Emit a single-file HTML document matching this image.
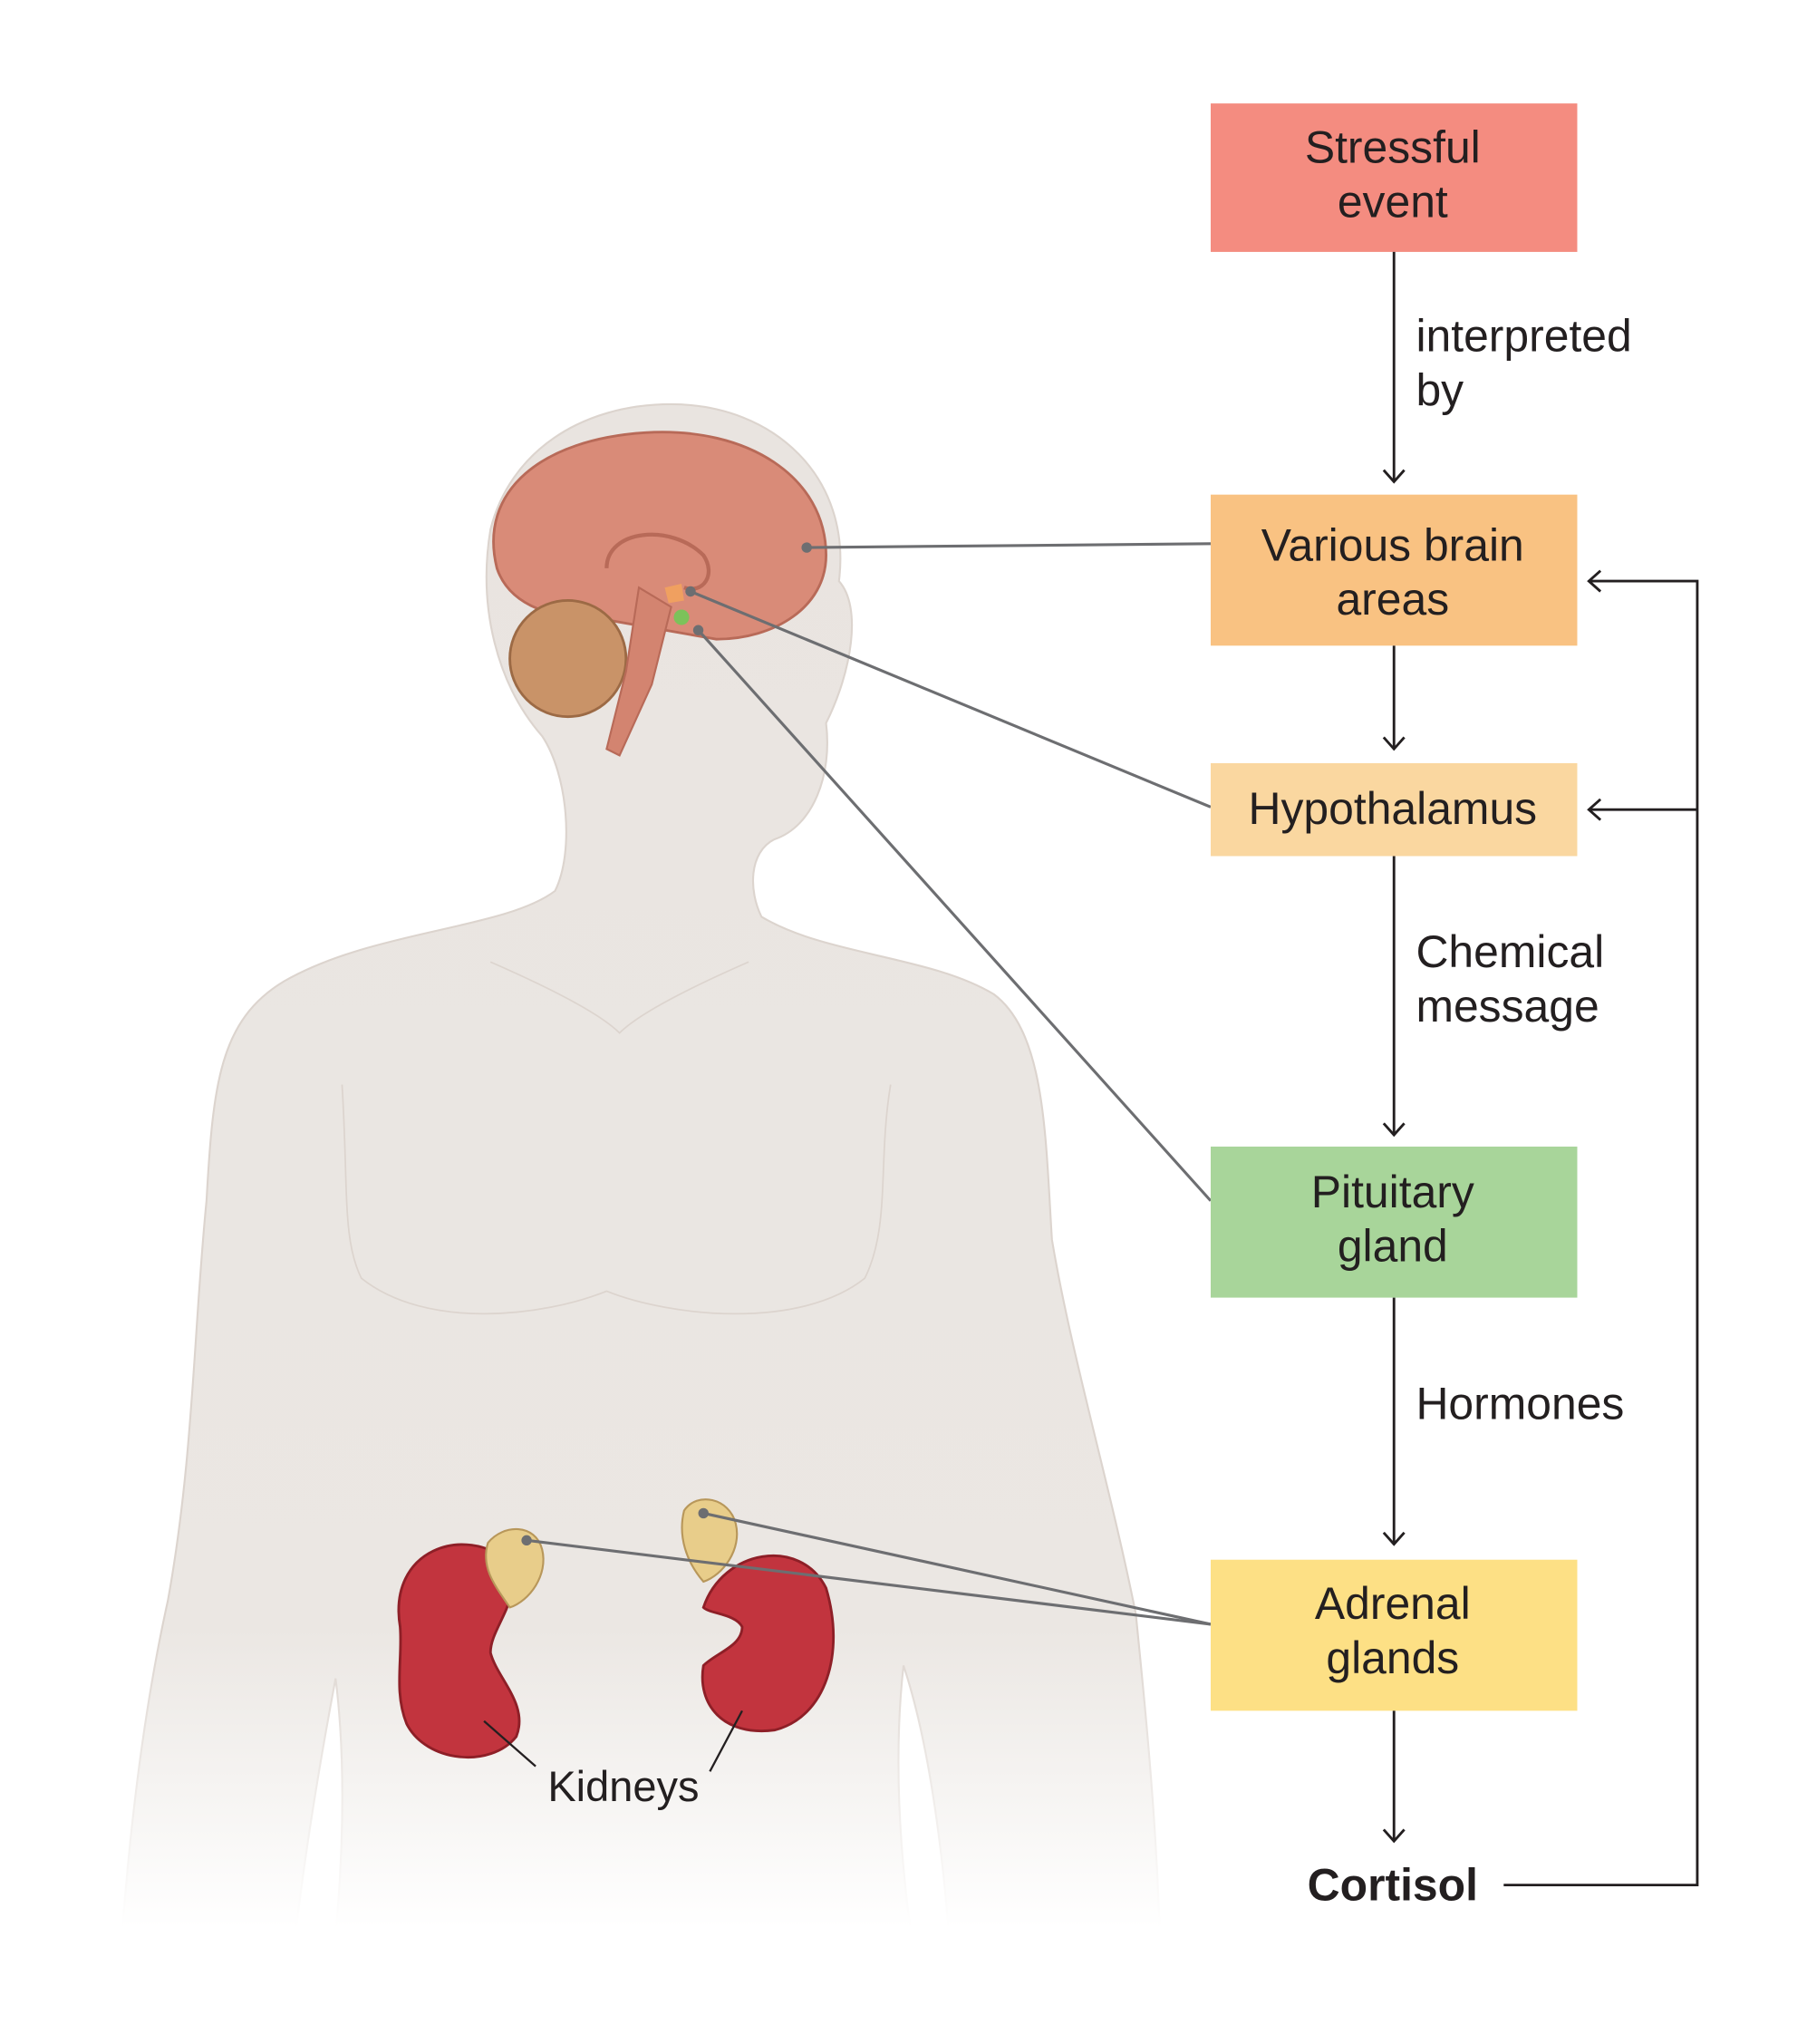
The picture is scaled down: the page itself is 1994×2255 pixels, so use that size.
<!DOCTYPE html>
<html><head><meta charset="utf-8"><style>
html,body{margin:0;padding:0;background:#fff;}
svg{display:block;}
text{font-family:"Liberation Sans",Arial,sans-serif;fill:#231f20;}
</style></head><body>
<svg width="1994" height="2255" viewBox="0 0 1400 1583" xmlns="http://www.w3.org/2000/svg">
<defs>
<linearGradient id="fade" gradientUnits="userSpaceOnUse" x1="0" y1="300" x2="0" y2="1583">
<stop offset="0" stop-color="#e9e4e0"/><stop offset="0.75" stop-color="#ebe7e3"/><stop offset="0.93" stop-color="#ffffff"/><stop offset="1" stop-color="#ffffff"/>
</linearGradient>
<linearGradient id="fadeS" gradientUnits="userSpaceOnUse" x1="0" y1="300" x2="0" y2="1583">
<stop offset="0" stop-color="#dcd4ce"/><stop offset="0.75" stop-color="#dcd4ce"/><stop offset="0.93" stop-color="#ffffff"/><stop offset="1" stop-color="#ffffff"/>
</linearGradient>
</defs>
<!-- body -->
<path d="M520 313 C600 313 660 370 650 450 C668 470 660 520 640 560 C645 600 630 640 600 650 C580 660 580 690 590 710 C640 740 720 740 770 770 C810 800 810 880 815 960 C830 1050 860 1150 880 1250 C890 1350 900 1450 900 1583 L740 1583 C735 1450 720 1350 700 1290 C690 1380 700 1480 720 1583 L250 1583 C265 1480 270 1380 260 1300 C245 1380 230 1470 220 1583 L90 1583 C95 1450 110 1330 130 1240 C150 1130 150 1030 160 930 C165 840 170 790 220 760 C290 720 390 720 430 690 C445 660 440 600 420 570 C385 530 370 470 380 410 C395 350 450 313 520 313 Z" fill="url(#fade)" stroke="url(#fadeS)" stroke-width="1.5"/>
<path d="M265 840 C270 920 265 960 280 990 C330 1030 420 1020 470 1000 C520 1020 620 1030 670 990 C690 950 680 900 690 840" fill="none" stroke="#dcd4ce" stroke-width="1.2"/>
<path d="M380 745 Q460 780 480 800 Q500 780 580 745" fill="none" stroke="#dcd4ce" stroke-width="1.2"/>
<!-- brain -->
<path d="M385 440 C370 380 420 340 500 335 C580 330 640 370 640 430 C640 470 600 495 555 495 L470 480 C430 480 395 470 385 440 Z" fill="#d98b78" stroke="#b86a58" stroke-width="2"/>
<path d="M470 440 C470 410 520 405 545 430 C555 445 545 460 530 455" fill="none" stroke="#b86a58" stroke-width="3"/>
<circle cx="440" cy="510" r="45" fill="#c99368" stroke="#9c6a45" stroke-width="2"/>
<path d="M495 455 L520 470 L505 530 L480 585 L470 580 L485 520 Z" fill="#d38470" stroke="#b86a58" stroke-width="1.5"/>
<path d="M515 455 L528 452 L530 465 L518 467 Z" fill="#f0a060"/>
<circle cx="528" cy="478" r="6" fill="#7cc25a"/>
<!-- adrenals & kidneys -->
<path d="M310 1260 C300 1200 360 1180 395 1210 C405 1240 380 1260 380 1280 C385 1300 410 1320 400 1345 C380 1370 330 1365 315 1335 C305 1310 312 1285 310 1260 Z" fill="#c2343e" stroke="#8e1f27" stroke-width="2"/>
<path d="M545 1245 C560 1200 620 1190 640 1230 C655 1280 640 1330 600 1340 C560 1345 540 1320 545 1290 C555 1280 575 1275 575 1260 C570 1250 550 1250 545 1245 Z" fill="#c2343e" stroke="#8e1f27" stroke-width="2"/>
<path d="M378 1195 C390 1180 415 1180 420 1200 C425 1220 410 1240 395 1245 C385 1230 372 1215 378 1195 Z" fill="#e8cd8a" stroke="#b8975a" stroke-width="1.5"/>
<path d="M530 1170 C540 1155 565 1160 570 1180 C575 1200 560 1220 545 1225 C532 1210 525 1190 530 1170 Z" fill="#e8cd8a" stroke="#b8975a" stroke-width="1.5"/>
<!-- leader lines -->
<g stroke="#6d6e71" stroke-width="2.2" fill="none">
<line x1="625" y1="424" x2="938" y2="421"/>
<line x1="535" y1="458" x2="938" y2="625"/>
<line x1="541" y1="488" x2="938" y2="930"/>
<line x1="408" y1="1193" x2="938" y2="1258"/>
<line x1="545" y1="1172" x2="938" y2="1258"/>
</g>
<g fill="#6d6e71"><circle cx="625" cy="424" r="4"/><circle cx="535" cy="458" r="4"/><circle cx="541" cy="488" r="4"/><circle cx="408" cy="1193" r="4"/><circle cx="545" cy="1172" r="4"/></g>
<g stroke="#231f20" stroke-width="1.6" fill="none">
<line x1="375" y1="1333" x2="415" y2="1368"/><line x1="575" y1="1325" x2="550" y2="1372"/>
</g>
<text x="483" y="1395" font-size="33" text-anchor="middle">Kidneys</text>
<!-- boxes -->
<rect x="938" y="80" width="284" height="115" fill="#f48c80"/>
<rect x="938" y="383" width="284" height="117" fill="#f9c282"/>
<rect x="938" y="591" width="284" height="72" fill="#fad7a0"/>
<rect x="938" y="888" width="284" height="117" fill="#a8d59a"/>
<rect x="938" y="1208" width="284" height="117" fill="#fde085"/>
<g font-size="35" text-anchor="middle">
<text x="1079" y="126">Stressful</text><text x="1079" y="168">event</text>
<text x="1079" y="434">Various brain</text><text x="1079" y="476">areas</text>
<text x="1079" y="638">Hypothalamus</text>
<text x="1079" y="935">Pituitary</text><text x="1079" y="977">gland</text>
<text x="1079" y="1254">Adrenal</text><text x="1079" y="1296">glands</text>
<text x="1079" y="1472" font-weight="bold">Cortisol</text>
</g>
<g font-size="35">
<text x="1097" y="272">interpreted</text><text x="1097" y="314">by</text>
<text x="1097" y="749">Chemical</text><text x="1097" y="791">message</text>
<text x="1097" y="1099">Hormones</text>
</g>
<!-- arrows -->
<g stroke="#231f20" stroke-width="2" fill="none">
<line x1="1080" y1="195" x2="1080" y2="373"/><polyline points="1072,364 1080,373 1088,364"/>
<line x1="1080" y1="500" x2="1080" y2="580"/><polyline points="1072,571 1080,580 1088,571"/>
<line x1="1080" y1="663" x2="1080" y2="879"/><polyline points="1072,870 1080,879 1088,870"/>
<line x1="1080" y1="1005" x2="1080" y2="1196"/><polyline points="1072,1187 1080,1196 1088,1187"/>
<line x1="1080" y1="1325" x2="1080" y2="1426"/><polyline points="1072,1417 1080,1426 1088,1417"/>
<polyline points="1165,1460 1315,1460 1315,450 1231,450"/>
<polyline points="1240,442 1231,450 1240,458"/>
<line x1="1315" y1="627" x2="1231" y2="627"/><polyline points="1240,619 1231,627 1240,635"/>
</g>
</svg>
</body></html>
